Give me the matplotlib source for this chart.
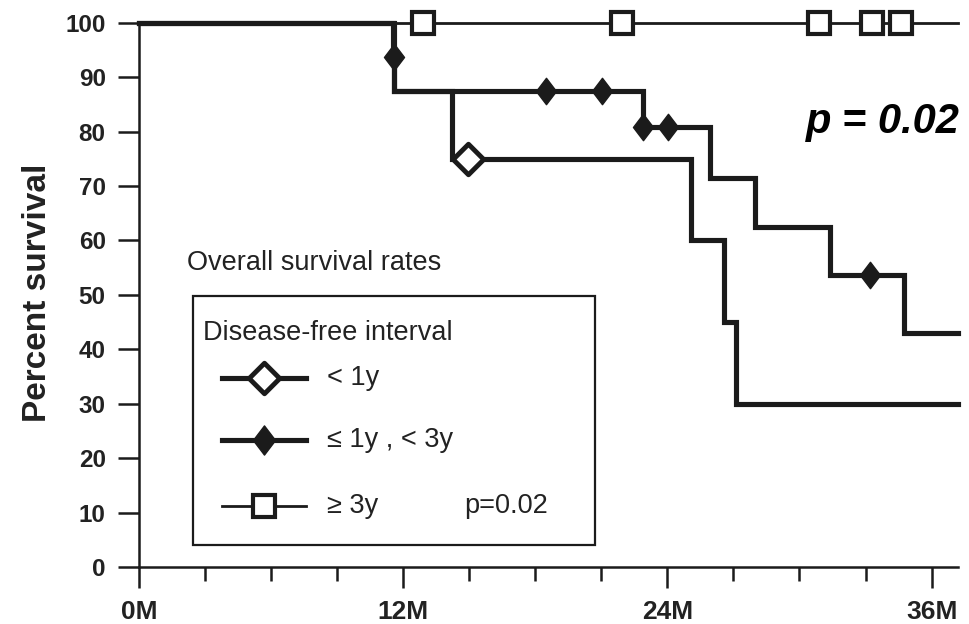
import matplotlib
matplotlib.use("Agg")
import matplotlib.pyplot as plt
from matplotlib.path import Path
from matplotlib.patches import Rectangle

plt.rcParams['font.family'] = ['Liberation Sans', 'DejaVu Sans']

# ---- Kaplan-Meier data (months, percent surviving) ----
follow_up_end = 37.2

# Disease-free interval < 1 year
lt1_times = [0, 11.56, 14.2, 25.05, 26.55, 27.1]
lt1_surv = [100, 87.5, 75, 60, 45, 30]
lt1_cens_t = [14.95]
lt1_cens_s = [75]

# Disease-free interval >= 1 year and < 3 years
mid_times = [0, 11.54, 11.58, 22.9, 25.95, 28.0, 31.4, 34.75]
mid_surv = [100, 93.75, 87.5, 80.9, 71.4, 62.5, 53.6, 42.9]
mid_cens_t = [11.56, 18.5, 21.05, 22.9, 24.05, 33.2]
mid_cens_s = [93.75, 87.5, 87.5, 80.9, 80.9, 53.6]

# Disease-free interval >= 3 years
ge3_times = [0]
ge3_surv = [100]
ge3_cens_t = [12.9, 21.95, 30.9, 33.3, 34.6]
ge3_cens_s = [100, 100, 100, 100, 100]

x_major = [0, 12, 24, 36]
x_major_labels = ["0M", "12M", "24M", "36M"]
x_minor = [3, 6, 9, 15, 18, 21, 27, 30, 33]
y_ticks = list(range(0, 101, 10))

legend_labels = ["< 1y", "\u2264 1y , < 3y", "\u2265 3y"]

INK = '#1b1b1b'
TXT = '#222222'

# custom diamond shapes
thin_diamond = Path([(0, 1), (0.76, 0), (0, -1), (-0.76, 0), (0, 1)],
                    [Path.MOVETO, Path.LINETO, Path.LINETO, Path.LINETO, Path.CLOSEPOLY])
open_diamond = Path([(0, 1), (1, 0), (0, -1), (-1, 0), (0, 1)],
                    [Path.MOVETO, Path.LINETO, Path.LINETO, Path.LINETO, Path.CLOSEPOLY])

fig = plt.figure(figsize=(9.69, 6.24), dpi=100)
ax = fig.add_axes([139 / 969, 1 - 567 / 624, (958 - 139) / 969, (567 - 22.7) / 624])
ax.set_xlim(0, follow_up_end)
ax.set_ylim(0, 100)


def km_steps(times, surv, end):
    xs = list(times) + [end]
    ys = list(surv) + [surv[-1]]
    return xs, ys


thick_lw = 3.7
thin_lw = 2.0

# >= 3y : thin line with open squares
xs, ys = km_steps(ge3_times, ge3_surv, follow_up_end)
ax.step(xs, ys, where='post', color=INK, lw=thin_lw, clip_on=False, zorder=3)

# < 1y : thick line with open diamond
xs, ys = km_steps(lt1_times, lt1_surv, follow_up_end)
ax.step(xs, ys, where='post', color=INK, lw=thick_lw, clip_on=False, zorder=4,
        solid_joinstyle='miter')

# >= 1y, < 3y : thick line with filled diamonds
xs, ys = km_steps(mid_times, mid_surv, follow_up_end)
ax.step(xs, ys, where='post', color=INK, lw=thick_lw, clip_on=False, zorder=4,
        solid_joinstyle='miter')

# censor marks
ax.plot(ge3_cens_t, ge3_cens_s, ls='none', marker='s', ms=16.5, mfc='white',
        mec=INK, mew=3.0, clip_on=False, zorder=6)
ax.plot(lt1_cens_t, lt1_cens_s, ls='none', marker=open_diamond, ms=22, mfc='white',
        mec=INK, mew=3.5, clip_on=False, zorder=6)
ax.plot(mid_cens_t, mid_cens_s, ls='none', marker=thin_diamond, ms=19, mfc=INK,
        mec=INK, mew=1.0, clip_on=False, zorder=6)

# ---- axes styling ----
for side in ('top', 'right'):
    ax.spines[side].set_visible(False)
for side in ('left', 'bottom'):
    ax.spines[side].set_linewidth(1.8)
    ax.spines[side].set_color(INK)

ax.set_xticks(x_major)
ax.set_xticklabels(x_major_labels)
ax.set_xticks(x_minor, minor=True)
ax.set_yticks(y_ticks)
ax.set_yticklabels([str(v) for v in y_ticks])

ax.tick_params(axis='both', which='major', direction='out', length=15, width=1.8,
               color=INK)
ax.tick_params(axis='x', which='minor', direction='out', length=10, width=1.8,
               color=INK)
ax.tick_params(axis='x', which='major', pad=8.5, labelsize=19)
ax.tick_params(axis='y', which='major', pad=9, labelsize=17.5)
for lab in ax.get_xticklabels() + ax.get_yticklabels():
    lab.set_fontweight('bold')
    lab.set_color(TXT)

fig.text(38 / 969, 1 - 292.5 / 624, "Percent survival", rotation=90,
         ha='center', va='center', fontsize=24, fontweight='bold', color=TXT)

# ---- annotations ----
ax.text(33.8, 81.8, "p = 0.02", fontsize=30, fontweight='bold', style='italic',
        ha='center', va='center', color='black', clip_on=False)

ax.text(2.18, 55.9, "Overall survival rates", fontsize=19.5, ha='left', va='center',
        color=TXT)

# ---- legend box ----
ax.add_patch(Rectangle((2.45, 4.0), 20.73 - 2.45, 49.7 - 4.0, fill=False,
                       lw=1.6, edgecolor=INK, zorder=2))
ax.text(2.91, 43.0, "Disease-free interval", fontsize=19.5, ha='left', va='center',
        color=TXT)

leg_y = [34.8, 23.3, 11.2]
seg_x = [3.77, 7.59]
mark_x = 5.68
ax.plot(seg_x, [leg_y[0]] * 2, color=INK, lw=thick_lw, zorder=4)
ax.plot([mark_x], [leg_y[0]], ls='none', marker=open_diamond, ms=22, mfc='white',
        mec=INK, mew=3.5, zorder=6)
ax.plot(seg_x, [leg_y[1]] * 2, color=INK, lw=thick_lw, zorder=4)
ax.plot([mark_x], [leg_y[1]], ls='none', marker=thin_diamond, ms=21, mfc=INK,
        mec=INK, mew=1.0, zorder=6)
ax.plot(seg_x, [leg_y[2]] * 2, color=INK, lw=thin_lw, zorder=4)
ax.plot([mark_x], [leg_y[2]], ls='none', marker='s', ms=16.5, mfc='white',
        mec=INK, mew=3.0, zorder=6)

for y, lab in zip(leg_y, legend_labels):
    ax.text(8.55, y, lab, fontsize=19.5, ha='left', va='center', color=TXT)
ax.text(14.77, leg_y[2], "p=0.02", fontsize=19.5, ha='left', va='center', color=TXT)

fig.savefig("out.png", dpi=100)
